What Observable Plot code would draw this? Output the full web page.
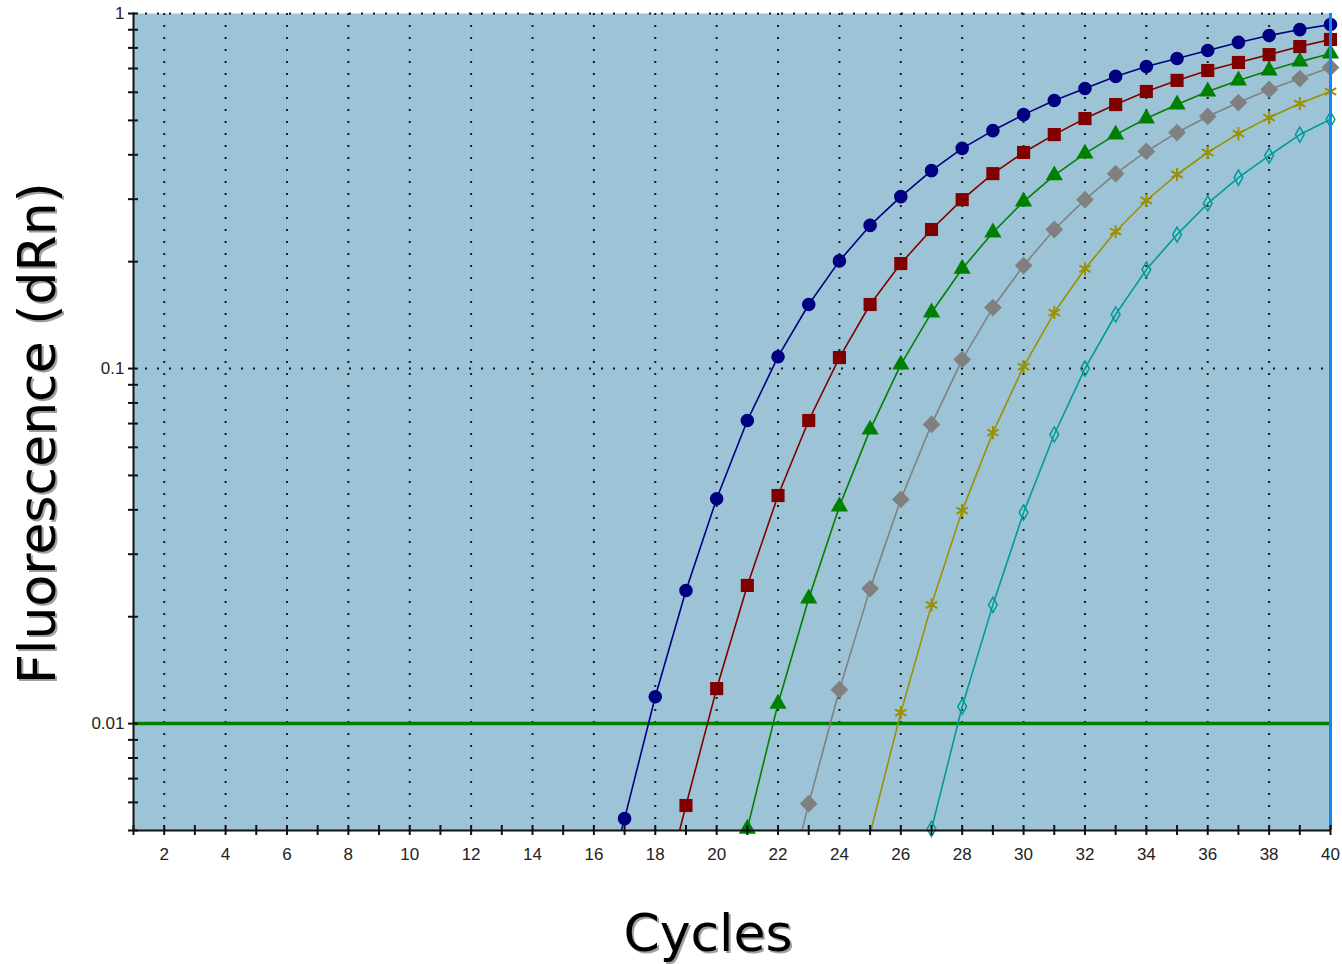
<!DOCTYPE html>
<html><head><meta charset="utf-8">
<script src="https://cdn.jsdelivr.net/npm/d3@7"></script>
<script src="https://cdn.jsdelivr.net/npm/@observablehq/plot@0.6"></script>
<style>body{margin:0;background:#fff} #chart svg{display:block}</style>
</head><body><div id="chart"></div>
<script>
// ---- data ----
const cycles = [16,17,18,19,20,21,22,23,24,25,26,27,28,29,30,31,32,33,34,35,36,37,38,39,40];
const navyValues  = [0.0026,0.0054,0.0119,0.0237,0.0430,0.0714,0.108,0.1515,0.201,0.253,0.305,0.361,0.417,0.468,0.519,0.569,0.615,0.665,0.709,0.747,0.787,0.829,0.867,0.901,0.931];
const redValues   = [null,null,0.0027,0.00588,0.01255,0.0245,0.0439,0.0714,0.1074,0.1515,0.1976,0.2464,0.299,0.354,0.406,0.456,0.506,0.554,0.603,0.648,0.691,0.728,0.766,0.807,0.845];
const greenValues = [null,null,null,null,null,0.00506,0.01138,0.0225,0.0409,0.0673,0.1026,0.1438,0.191,0.2416,0.2954,0.35,0.403,0.456,0.506,0.554,0.603,0.648,0.691,0.732,0.771];
const grayValues  = [null,null,null,null,null,null,0.0027,0.00595,0.01246,0.024,0.0428,0.0696,0.106,0.1485,0.195,0.2464,0.299,0.354,0.4087,0.462,0.513,0.5614,0.611,0.656,0.705];
const oliveValues = [null,null,null,null,null,null,null,null,null,0.0049,0.01074,0.0216,0.0398,0.066,0.1013,0.1438,0.191,0.2432,0.2974,0.352,0.406,0.459,0.509,0.5577,0.603];
const tealValues  = [null,null,null,null,null,null,null,null,null,null,null,0.00505,0.01117,0.0216,0.0393,0.0652,0.1,0.142,0.19,0.2384,0.2917,0.345,0.398,0.456,0.503];

const threshold = 0.01;
const xTickCycles = [1,2,3,4,5,6,7,8,9,10,11,12,13,14,15,16,17,18,19,20,21,22,23,24,25,26,27,28,29,30,31,32,33,34,35,36,37,38,39,40];
const xLabelCycles = [2,4,6,8,10,12,14,16,18,20,22,24,26,28,30,32,34,36,38,40];
const xGridCycles = [2,4,6,8,10,12,14,16,18,20,22,24,26,28,30,32,34,36,38];
const yLabelValues = [0.01, 0.1, 1];
const yLabelTexts = ["0.01", "0.1", "1"];
const yMinorTicks = [0.005,0.006,0.007,0.008,0.009,0.01,0.02,0.03,0.04,0.05,0.06,0.07,0.08,0.09,0.1,0.2,0.3,0.4,0.5,0.6,0.7,0.8,0.9,1];
const yGridValues = [1, 0.1];

const series = [
  {values: navyValues,  color: "#000080", symbol: "circle",   r: 6.8, filled: true},
  {values: redValues,   color: "#800000", symbol: "square",   r: 7.4, filled: true},
  {values: greenValues, color: "#008000", symbol: "triangle", r: 6.4, filled: true},
  {values: grayValues,  color: "#808080", symbol: "diamond2", r: 8.0, filled: true},
  {values: oliveValues, color: "#9a9000", symbol: "asterisk", r: 6.2, filled: false},
  {values: tealValues,  color: "#009a9a", symbol: "diamond",  r: 4.6, filled: false}
];

// ---- layout ----
const W = 1342, H = 964;
const mL = 133, mR = 12, mT = 13, mB = 134;
const frameW = W - mL - mR, frameH = H - mT - mB;
const bg = "#9dc4d6";
const font = "Liberation Sans, Arial, sans-serif";
const titleFont = "DejaVu Sans, Verdana, sans-serif";

const marks = [
  Plot.frame({fill: bg, stroke: "none"}),
  Plot.ruleX(xGridCycles, {x: d => d, stroke: "#1a1a1a", strokeWidth: 2, strokeDasharray: "2,10"}),
  Plot.ruleY(yGridValues, {y: d => d, stroke: "#1a1a1a", strokeWidth: 2, strokeDasharray: "2,10"}),
  Plot.ruleY([threshold], {y: d => d, stroke: "#008000", strokeWidth: 3.5})
];

series.forEach(s => {
  const pts = [];
  s.values.forEach((v, j) => { if (v != null) pts.push({cycle: cycles[j], value: v}); });
  marks.push(Plot.line(pts, {x: "cycle", y: "value", stroke: s.color, strokeWidth: 1.6, clip: true}));
});
series.forEach(s => {
  const pts = [];
  s.values.forEach((v, j) => { if (v != null && v >= 0.005) pts.push({cycle: cycles[j], value: v}); });
  marks.push(Plot.dot(pts, s.filled
    ? {x: "cycle", y: "value", symbol: () => s.symbol, r: s.r, fill: s.color, stroke: "none"}
    : {x: "cycle", y: "value", symbol: () => s.symbol, r: s.r, fill: "none", stroke: s.color, strokeWidth: s.symbol === "asterisk" ? 2 : 1.5}));
});

marks.push(
  Plot.ruleX([40], {x: d => d, stroke: "#1488f0", strokeWidth: 3}),
  // axis lines
  Plot.ruleX([1], {x: d => d, stroke: "#111", strokeWidth: 2}),
  Plot.ruleY([0.005], {y: d => d, stroke: "#111", strokeWidth: 2}),
  // ticks crossing the axis lines
  Plot.tickY(yMinorTicks, {y: d => d, insetLeft: -5, insetRight: frameW - 5, stroke: "#111", strokeWidth: 2}),
  Plot.tickX(xTickCycles, {x: d => d, insetTop: frameH - 5, insetBottom: -5, stroke: "#111", strokeWidth: 2}),
  // tick labels
  Plot.axisX(xLabelCycles, {tickSize: 0, tickPadding: 17, fontSize: 17, fontFamily: font, fill: "#222", label: null, tickFormat: d => String(d)}),
  Plot.axisY(yLabelValues, {tickSize: 0, tickPadding: 9, fontSize: 17, fontFamily: font, fill: "#222", label: null, tickFormat: d => yLabelTexts[yLabelValues.indexOf(d)]}),
  // axis titles with shadow
  Plot.text(["Cycles"], {text: d => d, frameAnchor: "bottom", textAnchor: "middle", dx: -22, dy: 106, fontSize: 52, fontFamily: titleFont, fill: "#a0a0a0", lineAnchor: "middle"}),
  Plot.text(["Cycles"], {text: d => d, frameAnchor: "bottom", textAnchor: "middle", dx: -24, dy: 104, fontSize: 52, fontFamily: titleFont, fill: "#000", lineAnchor: "middle"}),
  Plot.text(["Fluorescence (dRn)"], {text: d => d, frameAnchor: "left", textAnchor: "middle", rotate: -90, dx: -93, dy: 13, fontSize: 52, fontFamily: titleFont, fill: "#a0a0a0", lineAnchor: "middle"}),
  Plot.text(["Fluorescence (dRn)"], {text: d => d, frameAnchor: "left", textAnchor: "middle", rotate: -90, dx: -95, dy: 11, fontSize: 52, fontFamily: titleFont, fill: "#000", lineAnchor: "middle"})
);

const chart = Plot.plot({
  width: W, height: H,
  marginLeft: mL, marginRight: mR, marginTop: mT, marginBottom: mB,
  style: {background: "#fff", color: "#000", fontFamily: font, fontSize: "16px"},
  x: {domain: [1, 40], axis: null},
  y: {type: "log", domain: [0.005, 1], axis: null},
  marks
});
document.getElementById("chart").appendChild(chart);
</script>
</body></html>
